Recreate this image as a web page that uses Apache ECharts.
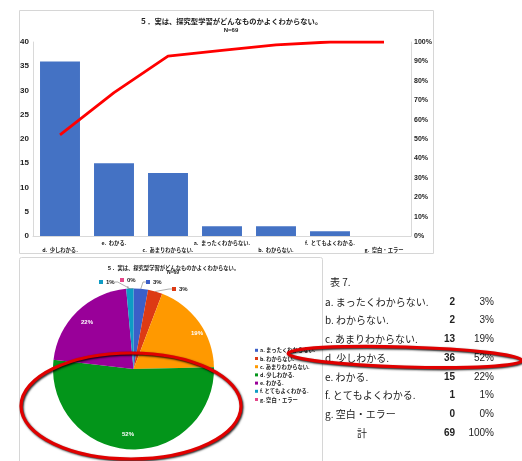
<!DOCTYPE html>
<html>
<head>
<meta charset="utf-8">
<script src="https://cdn.jsdelivr.net/npm/echarts@6/dist/echarts.min.js"></script>
<style>
  html, body { margin: 0; padding: 0; background: #fff; }
  #main { width: 522px; height: 461px; }
</style>
</head>
<body>
<div id="main"></div>
<script>
// Survey item 5: answer categories and counts (N = 69)
const categories = ['a. まったくわからない.', 'b. わからない.', 'c. あまりわからない.', 'd. 少しわかる.', 'e. わかる.', 'f. とてもよくわかる.', 'g. 空白・エラー'];
const counts = [2, 2, 13, 36, 15, 1, 0];
const sliceColors = ['#3b5fc8', '#dd3a14', '#ff9900', '#03951a', '#990099', '#0e9cc4', '#e4478a'];
const countTicks = [0, 5, 10, 15, 20, 25, 30, 35, 40];
const shareTicks = [0, 0.1, 0.2, 0.3, 0.4, 0.5, 0.6, 0.7, 0.8, 0.9, 1];
const chartTitle = '５．実は、探究型学習がどんなものかよくわからない。';
const tableCaption = '表 7.';
const totalLabel = '計';

const total = counts.reduce((s, v) => s + v, 0);
const JP = '"Noto Sans CJK JP", sans-serif';
const NUM = '"Liberation Sans", Arial, sans-serif';

// Pareto ordering (descending count, stable)
const order = counts.map((v, i) => i).sort((a, b) => counts[b] - counts[a] || a - b);
const paretoNames = order.map(i => categories[i].replace('. ', '.  '));
const paretoCounts = order.map(i => counts[i]);
let run = 0;
const paretoCum = paretoCounts.map(v => { run += v; return run / total; });

// Percentages shown in the table (rounded)
const tablePct = counts.map(v => Math.round(v / total * 100));

// Pie labels: small slices sit outside with a colour key, big ones inside
const outside = new Set([0, 1, 5, 6]);
const labelSpots = {
  0: [146, 282], 1: [172, 289], 5: [99, 282], 6: [120, 280],
  2: [197, 333], 3: [128, 434], 4: [87, 322]
};
const pieData = categories.map((name, i) => {
  const item = { name: name, value: counts[i], itemStyle: { color: sliceColors[i] } };
  if (outside.has(i)) {
    item.label = {
      show: true, position: 'outside', formatter: '{sq| }{v|{d}%}',
      rich: {
        sq: { width: 4, height: 4, backgroundColor: sliceColors[i] },
        v: { fontFamily: NUM, fontSize: 6, fontWeight: 'bold', color: '#222', padding: [0, 0, 0, 3] }
      }
    };
    item.labelLine = { show: true, length: 4, length2: 3, lineStyle: { color: '#8c8c8c', width: 0.7 } };
  } else {
    item.label = { show: true, position: 'inside', formatter: '{d}%', color: '#fff',
      fontFamily: NUM, fontSize: 6, fontWeight: 'bold' };
    item.labelLine = { show: false };
  }
  return item;
});

// Table rows drawn as text
const tableEls = [];
const rowY0 = 302, rowStep = 18.7;
tableEls.push({ type: 'text', left: 330, top: 277, style: { text: tableCaption, font: '10px ' + JP, fill: '#222' } });
categories.forEach((name, i) => {
  const y = rowY0 + i * rowStep;
  tableEls.push({ type: 'text', x: 325, y: y, style: { text: name, font: '10px ' + JP, fill: '#222', verticalAlign: 'middle' } });
  tableEls.push({ type: 'text', x: 455, y: y, style: { text: String(counts[i]), font: 'bold 10px ' + NUM, fill: '#222', align: 'right', verticalAlign: 'middle' } });
  tableEls.push({ type: 'text', x: 494, y: y, style: { text: tablePct[i] + '%', font: '10px ' + NUM, fill: '#222', align: 'right', verticalAlign: 'middle' } });
});
const totY = rowY0 + categories.length * rowStep;
tableEls.push({ type: 'text', x: 357, y: totY, style: { text: totalLabel, font: '10px ' + JP, fill: '#222', verticalAlign: 'middle' } });
tableEls.push({ type: 'text', x: 455, y: totY, style: { text: String(total), font: 'bold 10px ' + NUM, fill: '#222', align: 'right', verticalAlign: 'middle' } });
tableEls.push({ type: 'text', x: 494, y: totY, style: { text: '100%', font: '10px ' + NUM, fill: '#222', align: 'right', verticalAlign: 'middle' } });

const ringStyle = {
  fill: 'none', stroke: '#e00000', lineWidth: 3.2,
  shadowColor: 'rgba(0,0,0,0.85)', shadowBlur: 2, shadowOffsetX: 1, shadowOffsetY: 1.2
};

const chart = echarts.init(document.getElementById('main'), null, { renderer: 'canvas' });
chart.setOption({
  animation: false,
  backgroundColor: '#fff',
  title: [
    { text: chartTitle, subtext: 'N=69', left: 226, textAlign: 'center', top: 13, itemGap: 2,
      textStyle: { fontFamily: JP, fontSize: 7.3, fontWeight: 'bold', color: '#222' },
      subtextStyle: { fontFamily: NUM, fontSize: 6, fontWeight: 'bold', color: '#222' } },
    { text: chartTitle, subtext: 'N=69', left: 168, textAlign: 'center', top: 260, itemGap: 0,
      textStyle: { fontFamily: JP, fontSize: 5.3, fontWeight: 'bold', color: '#222' },
      subtextStyle: { fontFamily: NUM, fontSize: 5, fontWeight: 'bold', color: '#222' } }
  ],
  grid: { left: 33, top: 42, width: 378, height: 194 },
  xAxis: {
    type: 'category', data: paretoNames,
    axisLine: { lineStyle: { color: '#d9d9d9' } }, axisTick: { show: false },
    axisLabel: {
      interval: 0, hideOverlap: false, margin: 4,
      fontFamily: JP, fontSize: 5.3, fontWeight: 'bold', color: '#222', lineHeight: 6.5,
      formatter: (v, idx) => (idx % 2 === 0 ? '\n' + v : v)
    }
  },
  yAxis: [
    { type: 'value', min: countTicks[0], max: countTicks[countTicks.length - 1], interval: countTicks[1] - countTicks[0],
      axisLine: { show: true, lineStyle: { color: '#d9d9d9' } }, axisTick: { show: false }, splitLine: { show: false },
      axisLabel: { fontFamily: NUM, fontSize: 8, fontWeight: 'bold', color: '#222', margin: 4 } },
    { type: 'value', min: shareTicks[0], max: shareTicks[shareTicks.length - 1], interval: shareTicks[1] - shareTicks[0],
      position: 'right',
      axisLine: { show: true, lineStyle: { color: '#d9d9d9' } }, axisTick: { show: false }, splitLine: { show: false },
      axisLabel: { fontFamily: NUM, fontSize: 7, fontWeight: 'bold', color: '#222', margin: 3,
        formatter: v => Math.round(v * 100) + '%' } }
  ],
  legend: {
    orient: 'vertical', left: 250, top: 342, icon: 'rect', itemWidth: 3, itemHeight: 3, itemGap: 1.6,
    data: categories, selectedMode: false,
    textStyle: { fontFamily: JP, fontSize: 5.3, fontWeight: 'bold', color: '#222', lineHeight: 6.6, padding: [0, 0, 0, -3] }
  },
  series: [
    { type: 'bar', data: paretoCounts, barCategoryGap: '26%', yAxisIndex: 0,
      itemStyle: { color: '#4472c4', borderWidth: 0 } },
    { type: 'line', data: paretoCum, yAxisIndex: 1, showSymbol: false, symbol: 'none',
      lineStyle: { color: '#ff0000', width: 2.8 } },
    { type: 'pie', center: [133.5, 369], radius: 80.5, startAngle: 90, clockwise: true,
      percentPrecision: 0, data: pieData, label: { show: true },
      labelLayout: p => {
        const s = labelSpots[p.dataIndex];
        return s ? { x: s[0], y: s[1], align: outside.has(p.dataIndex) ? 'left' : 'center', verticalAlign: 'middle' } : {};
      } }
  ],
  graphic: [
    { type: 'rect', z: -1, shape: { x: 19.5, y: 10.5, width: 414, height: 243 }, style: { fill: 'none', stroke: '#d6d6d6', lineWidth: 1 } },
    { type: 'rect', z: -1, shape: { x: 19.5, y: 257.5, width: 303, height: 215, r: 2 }, style: { fill: 'none', stroke: '#d6d6d6', lineWidth: 1 } },
    ...tableEls,
    { type: 'ellipse', z: 200, shape: { cx: 131, cy: 406, rx: 110, ry: 53 }, style: ringStyle },
    { type: 'ellipse', z: 200, x: 405, y: 357, rotation: -0.03, shape: { cx: 0, cy: 0, rx: 117, ry: 10 }, style: ringStyle }
  ]
});
</script>
</body>
</html>
